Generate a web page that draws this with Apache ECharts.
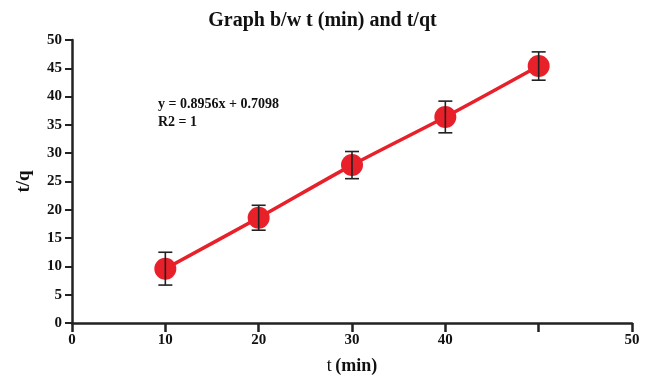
<!DOCTYPE html>
<html><head><meta charset="utf-8">
<script src="https://cdn.jsdelivr.net/npm/echarts@6/dist/echarts.min.js"></script>
<style>html,body{margin:0;padding:0;background:#fff}#c{width:645px;height:386px}</style>
</head><body><div id="c"></div>
<script>
var timeMin = [10, 20, 30, 40, 50];
var tOverQ = [9.6, 18.6, 27.9, 36.4, 45.4];
var errBar = [2.9, 2.2, 2.4, 2.8, 2.5];
var xTickLabels = {0:'0',10:'10',20:'20',30:'30',40:'40',50:'',60:'50'};
var titleText = 'Graph b/w t (min) and t/qt';
var eqLines = ['y = 0.8956x + 0.7098', 'R2 = 1'];

var serif = '"Liberation Serif", "Times New Roman", serif';
var lineData = timeMin.map(function(x,i){return [x, tOverQ[i]];});
var errData = timeMin.map(function(x,i){return [x, tOverQ[i]-errBar[i], tOverQ[i]+errBar[i]];});

var chart = echarts.init(document.getElementById('c'), null, {renderer:'canvas'});
chart.setOption({
  animation:false,
  backgroundColor:'#fff',
  title:{text:titleText, left:'center', top:6,
    textStyle:{fontFamily:serif, fontWeight:'bold', fontSize:20, color:'#111'}},
  grid:{left:72, right:13, top:40, bottom:63},
  xAxis:{type:'value', min:0, max:60, interval:10,
    name:'{a|t} {b|(min)}', nameLocation:'middle', nameGap:34,
    nameTextStyle:{rich:{a:{fontFamily:serif, fontSize:18, color:'#111'}, b:{fontFamily:serif, fontSize:18, fontWeight:'bold', color:'#111'}}},
    axisLine:{lineStyle:{color:'#222', width:2.5}},
    axisTick:{length:9, lineStyle:{color:'#222', width:2.5}},
    axisLabel:{fontFamily:serif, fontWeight:'bold', fontSize:15, color:'#111', margin:10,
      formatter:function(v){return xTickLabels[v] !== undefined ? xTickLabels[v] : '';}},
    splitLine:{show:false}},
  yAxis:{type:'value', min:0, max:50, interval:5,
    name:'t/q', nameLocation:'middle', nameGap:38, nameRotate:90,
    nameTextStyle:{fontFamily:serif, fontWeight:'bold', fontSize:19, color:'#111'},
    axisLine:{lineStyle:{color:'#222', width:2.5}},
    axisTick:{length:7, lineStyle:{color:'#222', width:2}},
    axisLabel:{fontFamily:serif, fontWeight:'bold', fontSize:15, color:'#111', margin:10},
    splitLine:{show:false}},
  graphic:[
    {type:'text', left:158, top:97, style:{text:eqLines[0], font:'bold 14px '+serif, fill:'#111'}},
    {type:'text', left:158, top:115, style:{text:eqLines[1], font:'bold 14px '+serif, fill:'#111'}}
  ],
  series:[
    {type:'line', data:lineData, smooth:0.3, symbol:'circle', symbolSize:22,
     itemStyle:{color:'#e8202a'}, lineStyle:{color:'#e8202a', width:3.5}, z:2},
    {type:'custom', data:errData, z:5,
     renderItem:function(params, api){
       var x = api.value(0);
       var lo = api.coord([x, api.value(1)]);
       var hi = api.coord([x, api.value(2)]);
       var hw = 7;
       var st = {stroke:'#222', lineWidth:1.6};
       return {type:'group', children:[
         {type:'line', shape:{x1:lo[0], y1:lo[1], x2:hi[0], y2:hi[1]}, style:st},
         {type:'line', shape:{x1:lo[0]-hw, y1:lo[1], x2:lo[0]+hw, y2:lo[1]}, style:st},
         {type:'line', shape:{x1:hi[0]-hw, y1:hi[1], x2:hi[0]+hw, y2:hi[1]}, style:st}
       ]};
     }}
  ]
});
</script></body></html>
